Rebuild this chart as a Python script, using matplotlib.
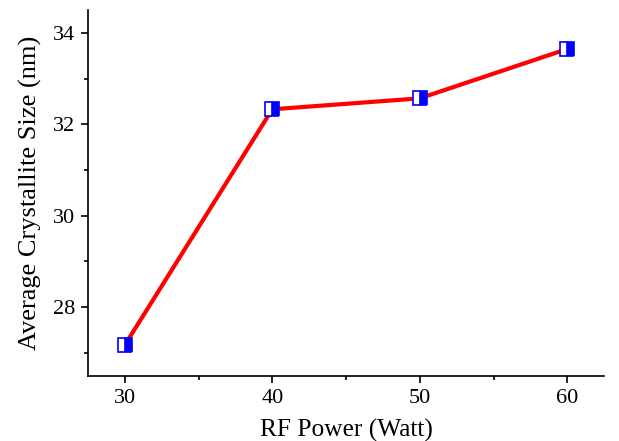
import matplotlib
matplotlib.use("Agg")
import matplotlib.pyplot as plt
from matplotlib.ticker import MultipleLocator

plt.rcParams['font.family'] = ['Liberation Serif', 'DejaVu Serif']

rf_power = [30, 40, 50, 60]
cryst_size = [27.17, 32.33, 32.57, 33.65]

fig = plt.figure(figsize=(6.19, 4.41), dpi=100)
ax = fig.add_axes([0.142, 0.147, 0.834, 0.830])

ax.plot(rf_power, cryst_size, color='red', lw=3, zorder=2)
ax.plot(rf_power, cryst_size, ls='none', marker='s', ms=9.5,
        fillstyle='right', markerfacecolor='#0000ff', markerfacecoloralt='white',
        markeredgecolor='#0000ff', markeredgewidth=1.2, zorder=3)

ax.set_xlim(27.5, 62.5)
ax.set_ylim(26.49, 34.5)
ax.xaxis.set_major_locator(MultipleLocator(10))
ax.xaxis.set_minor_locator(MultipleLocator(5))
ax.yaxis.set_major_locator(MultipleLocator(2))
ax.yaxis.set_minor_locator(MultipleLocator(1))

for s in ['top', 'right']:
    ax.spines[s].set_visible(False)
for s in ['left', 'bottom']:
    ax.spines[s].set_linewidth(1.2)

ax.tick_params(which='major', direction='out', length=5, width=1.2, labelsize=16, pad=4)
ax.tick_params(which='minor', direction='out', length=3, width=1.2)

ax.set_xlabel('RF Power (Watt)', fontsize=18.3, labelpad=8)
ax.set_ylabel('Average Crystallite Size (nm)', fontsize=19, labelpad=8)

fig.savefig('out.png', dpi=100)
